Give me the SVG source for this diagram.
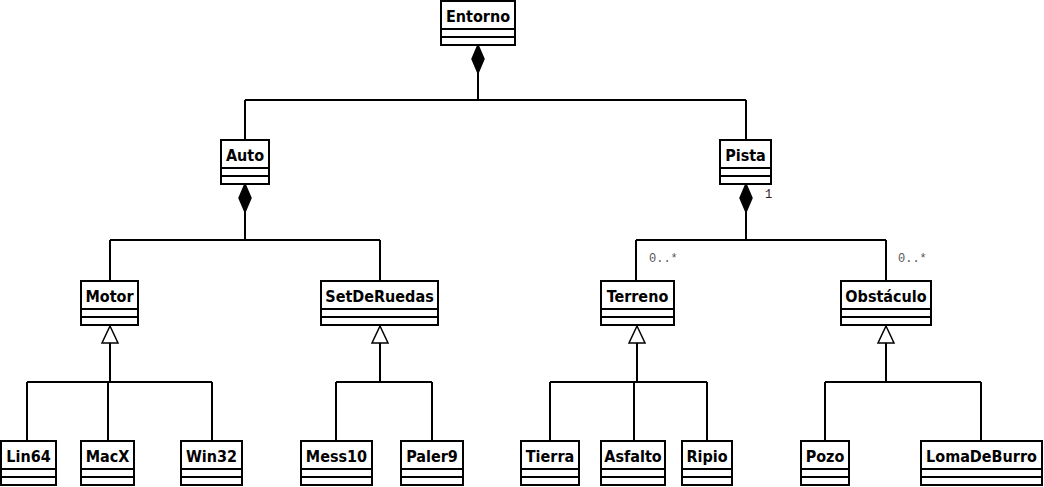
<svg xmlns="http://www.w3.org/2000/svg" width="1044" height="487" viewBox="0 0 1044 487">
<style>
.box rect{fill:#fff;stroke:#000;stroke-width:2}
.box line{stroke:#000;stroke-width:2}
.box text{font-family:"DejaVu Sans Condensed","DejaVu Sans",sans-serif;font-stretch:condensed;font-weight:bold;font-size:16px;fill:#000;text-anchor:middle}
#connectors path.l{fill:none;stroke:#000;stroke-width:2}
#connectors path.d{fill:#000;stroke:#000;stroke-width:1.5}
#connectors path.t{fill:#fff;stroke:#000;stroke-width:1.5}
.mult{font-family:"Liberation Mono",monospace;font-size:12px}
</style>
<rect width="1044" height="487" fill="#fff"/>
<g id="connectors">
<path class="l" d="M478,73V100M245,100H746M245,100V140M746,100V140"/>
<path class="d" d="M478,45L484,59L478,73L472,59Z"/>
<path class="l" d="M245,212V240M110,240H380M110,240V281M380,240V281"/>
<path class="d" d="M245,184L251,198L245,212L239,198Z"/>
<path class="l" d="M746,212V240M636,240H886M636,240V281M886,240V281"/>
<path class="d" d="M746,184L752,198L746,212L740,198Z"/>
<path class="l" d="M110,343V382M27,382H212M27,382V441M108,382V441M212,382V441"/>
<path class="t" d="M110,326L118,343H102Z"/>
<path class="l" d="M380,343V382M336,382H432M336,382V441M432,382V441"/>
<path class="t" d="M380,326L388,343H372Z"/>
<path class="l" d="M637,343V382M550,382H707M550,382V441M634,382V441M707,382V441"/>
<path class="t" d="M637,326L645,343H629Z"/>
<path class="l" d="M886,343V382M825,382H981M825,382V441M981,382V441"/>
<path class="t" d="M886,326L894,343H878Z"/>
<text class="mult" x="765" y="198" fill="#302020">1</text>
<text class="mult" x="649" y="262" fill="#555">0..*</text>
<text class="mult" x="898" y="262" fill="#555">0..*</text>
</g>
<g id="Entorno" class="box"><rect x="441" y="1" width="74" height="44"/><line x1="441" y1="29" x2="515" y2="29"/><line x1="441" y1="37" x2="515" y2="37"/><text x="478" y="22">Entorno</text></g>
<g id="Auto" class="box"><rect x="221" y="140" width="48" height="44"/><line x1="221" y1="168" x2="269" y2="168"/><line x1="221" y1="176" x2="269" y2="176"/><text x="245" y="161">Auto</text></g>
<g id="Pista" class="box"><rect x="720" y="140" width="51" height="44"/><line x1="720" y1="168" x2="771" y2="168"/><line x1="720" y1="176" x2="771" y2="176"/><text x="745.5" y="161">Pista</text></g>
<g id="Motor" class="box"><rect x="81" y="281" width="57" height="44"/><line x1="81" y1="309" x2="138" y2="309"/><line x1="81" y1="317" x2="138" y2="317"/><text x="109.5" y="302">Motor</text></g>
<g id="SetDeRuedas" class="box"><rect x="321" y="281" width="117" height="44"/><line x1="321" y1="309" x2="438" y2="309"/><line x1="321" y1="317" x2="438" y2="317"/><text x="379.5" y="302">SetDeRuedas</text></g>
<g id="Terreno" class="box"><rect x="601" y="281" width="73" height="44"/><line x1="601" y1="309" x2="674" y2="309"/><line x1="601" y1="317" x2="674" y2="317"/><text x="637.5" y="302">Terreno</text></g>
<g id="Obstaculo" class="box"><rect x="841" y="281" width="90" height="44"/><line x1="841" y1="309" x2="931" y2="309"/><line x1="841" y1="317" x2="931" y2="317"/><text x="886" y="302">Obstáculo</text></g>
<g id="Lin64" class="box"><rect x="1" y="441" width="55" height="44"/><line x1="1" y1="469" x2="56" y2="469"/><line x1="1" y1="477" x2="56" y2="477"/><text x="28.5" y="462">Lin64</text></g>
<g id="MacX" class="box"><rect x="81" y="441" width="53" height="44"/><line x1="81" y1="469" x2="134" y2="469"/><line x1="81" y1="477" x2="134" y2="477"/><text x="107.5" y="462">MacX</text></g>
<g id="Win32" class="box"><rect x="181" y="441" width="61" height="44"/><line x1="181" y1="469" x2="242" y2="469"/><line x1="181" y1="477" x2="242" y2="477"/><text x="211.5" y="462">Win32</text></g>
<g id="Mess10" class="box"><rect x="301" y="441" width="71" height="44"/><line x1="301" y1="469" x2="372" y2="469"/><line x1="301" y1="477" x2="372" y2="477"/><text x="336.5" y="462">Mess10</text></g>
<g id="Paler9" class="box"><rect x="401" y="441" width="62" height="44"/><line x1="401" y1="469" x2="463" y2="469"/><line x1="401" y1="477" x2="463" y2="477"/><text x="432" y="462">Paler9</text></g>
<g id="Tierra" class="box"><rect x="521" y="441" width="58" height="44"/><line x1="521" y1="469" x2="579" y2="469"/><line x1="521" y1="477" x2="579" y2="477"/><text x="550" y="462">Tierra</text></g>
<g id="Asfalto" class="box"><rect x="601" y="441" width="64" height="44"/><line x1="601" y1="469" x2="665" y2="469"/><line x1="601" y1="477" x2="665" y2="477"/><text x="633" y="462">Asfalto</text></g>
<g id="Ripio" class="box"><rect x="682" y="441" width="50" height="44"/><line x1="682" y1="469" x2="732" y2="469"/><line x1="682" y1="477" x2="732" y2="477"/><text x="707" y="462">Ripio</text></g>
<g id="Pozo" class="box"><rect x="801" y="441" width="48" height="44"/><line x1="801" y1="469" x2="849" y2="469"/><line x1="801" y1="477" x2="849" y2="477"/><text x="825" y="462">Pozo</text></g>
<g id="LomaDeBurro" class="box"><rect x="921" y="441" width="121" height="44"/><line x1="921" y1="469" x2="1042" y2="469"/><line x1="921" y1="477" x2="1042" y2="477"/><text x="981.5" y="462">LomaDeBurro</text></g>
</svg>
